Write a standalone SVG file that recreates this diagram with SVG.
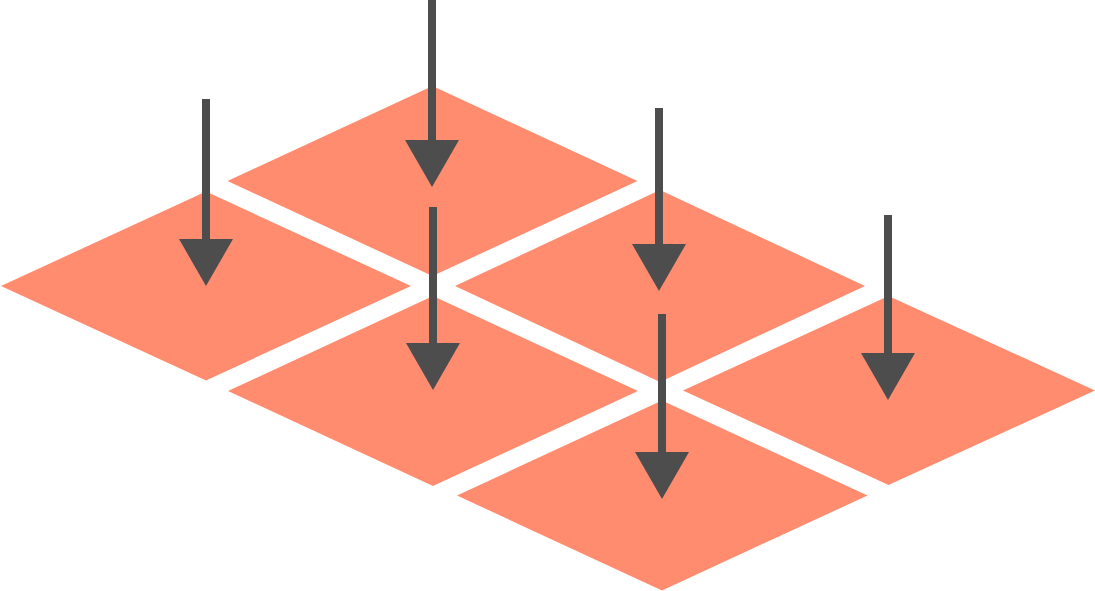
<svg xmlns="http://www.w3.org/2000/svg" width="1095" height="591" viewBox="0 0 1095 591">
<style>
.tile{fill:#FF8C6E;stroke:none}
.shaft{stroke:#4D4D4D;stroke-width:8;fill:none}
.head{fill:#4D4D4D}
</style>
<rect width="1095" height="591" fill="#FFFFFF"/>
<g id="tile-left"><polygon class="tile" points="1,286 206,191.5 411,286 206,380.5"/></g>
<g id="tile-top"><polygon class="tile" points="227.5,181 432.5,86 637.5,181 432.5,276"/></g>
<g id="tile-center"><polygon class="tile" points="228,391 433,296 638,391 433,486"/></g>
<g id="tile-right-top"><polygon class="tile" points="455,286 660,190 865,286 660,382"/></g>
<g id="tile-bottom"><polygon class="tile" points="457,495.5 662,400.5 867.5,495.5 662,590.5"/></g>
<g id="tile-right"><polygon class="tile" points="683,390.5 888.5,296 1095,390.5 888.5,485"/></g>
<g id="connectors">
<line class="shaft" x1="206" y1="99" x2="206" y2="242"/>
<polygon class="head" points="179,239 233,239 206,286"/>
<line class="shaft" x1="432" y1="0" x2="432" y2="143"/>
<polygon class="head" points="405,140 459,140 432,187"/>
<line class="shaft" x1="433" y1="207" x2="433" y2="346"/>
<polygon class="head" points="406,343 460,343 433,390"/>
<line class="shaft" x1="659" y1="108" x2="659" y2="247"/>
<polygon class="head" points="632,244 686,244 659,291"/>
<line class="shaft" x1="662" y1="314" x2="662" y2="455"/>
<polygon class="head" points="635,452 689,452 662,499"/>
<line class="shaft" x1="888" y1="215" x2="888" y2="356"/>
<polygon class="head" points="861,353 915,353 888,400"/>
</g>
</svg>
